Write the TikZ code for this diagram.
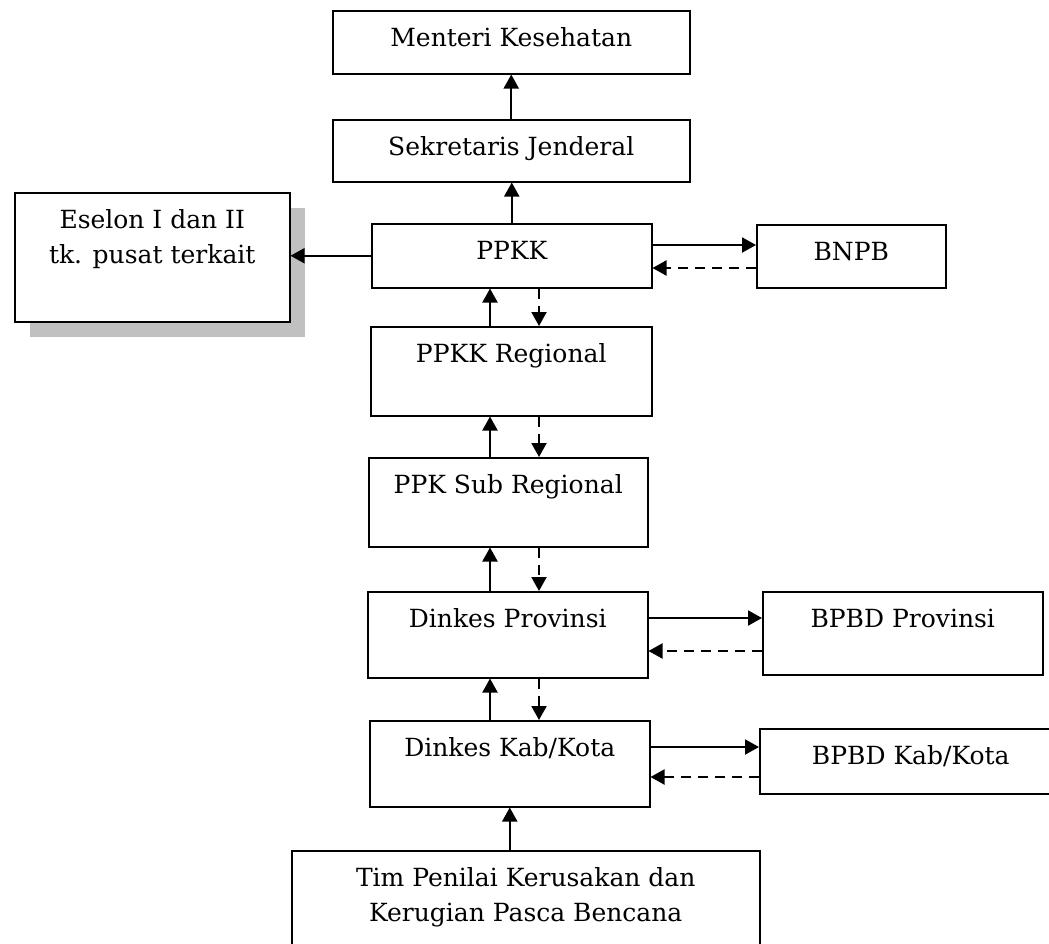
\documentclass[tikz,border=0pt]{standalone}
\usepackage{fontspec}
\setmainfont{DejaVu Serif}
\usetikzlibrary{arrows.meta,shadows}

\tikzset{
  unit/.style={draw, line width=0.75pt, fill=white, anchor=north west, inner sep=0pt, align=center, text height=18pt, font=\fontsize{12.5}{17.5}\selectfont},
  link/.style={line width=1pt, -{Triangle[length=7pt,width=7.5pt]}},
  back/.style={link, dash pattern=on 5pt off 3.5pt},
}

\begin{document}
\begin{tikzpicture}[x=0.5pt,y=-0.5pt]
\clip (0,0) rectangle (1049,943);
\fill[white] (0,0) rectangle (1049,943);

\node[unit, minimum width=178.5pt, text depth=13.5pt] (menteri) at (332,10) {Menteri Kesehatan};
\node[unit, minimum width=178.5pt, text depth=13pt] (sekjen) at (332,119) {Sekretaris Jenderal};
\node[unit, minimum width=140pt, text depth=14pt] (ppkk) at (371,223) {PPKK};
\node[unit, minimum width=94.5pt, text depth=13.5pt] (bnpb) at (756,224) {BNPB};
\node[unit, minimum width=137.5pt, text height=35.5pt, text depth=29pt, drop shadow={shadow xshift=7.5pt, shadow yshift=-7.5pt, opacity=1, fill={rgb,255:red,192;green,192;blue,192}}] (eselon) at (14,192) {Eselon I dan II\\tk. pusat terkait};
\node[unit, minimum width=140.5pt, text depth=26.5pt] (reg) at (370,326) {PPKK Regional};
\node[unit, minimum width=139.5pt, text depth=26.5pt] (sub) at (368,457) {PPK Sub Regional};
\node[unit, minimum width=140pt, text depth=25pt] (prov) at (367,591) {Dinkes Provinsi};
\node[unit, minimum width=140pt, text depth=23.5pt] (bprov) at (762,591) {BPBD Provinsi};
\node[unit, minimum width=140pt, text depth=25pt] (kab) at (369,720) {Dinkes Kab/Kota};
\node[unit, minimum width=151pt, text depth=14.5pt] (bkab) at (759,728) {BPBD Kab/Kota};
\node[unit, minimum width=234pt, text height=35.5pt, text depth=34.5pt] (tim) at (291,850) {Tim Penilai Kerusakan dan\\Kerugian Pasca Bencana};

\coordinate (up) at (490,0);
\coordinate (dn) at (539,0);
\coordinate (ra) at (0,245);
\coordinate (rb) at (0,268);
\coordinate (rc) at (0,618);
\coordinate (rd) at (0,651);
\coordinate (re) at (0,747);
\coordinate (rf) at (0,777);

\draw[link] (sekjen.north) -- (menteri.south);
\draw[link] (ppkk.north) -- (ppkk.north |- sekjen.south);
\draw[link] (ppkk.west) -- (ppkk.west -| eselon.east);
\draw[link] (ppkk.east |- ra) -- (bnpb.west |- ra);
\draw[back] (bnpb.west |- rb) -- (ppkk.east |- rb);
\draw[link] (reg.north -| up) -- (ppkk.south -| up);
\draw[back] (ppkk.south -| dn) -- (reg.north -| dn);
\draw[link] (sub.north -| up) -- (reg.south -| up);
\draw[back] (reg.south -| dn) -- (sub.north -| dn);
\draw[link] (prov.north -| up) -- (sub.south -| up);
\draw[back] (sub.south -| dn) -- (prov.north -| dn);
\draw[link] (prov.east |- rc) -- (bprov.west |- rc);
\draw[back] (bprov.west |- rd) -- (prov.east |- rd);
\draw[link] (kab.north -| up) -- (prov.south -| up);
\draw[back] (prov.south -| dn) -- (kab.north -| dn);
\draw[link] (kab.east |- re) -- (bkab.west |- re);
\draw[back] (bkab.west |- rf) -- (kab.east |- rf);
\draw[link] (tim.north -| kab.south) -- (kab.south);

\end{tikzpicture}
\end{document}
